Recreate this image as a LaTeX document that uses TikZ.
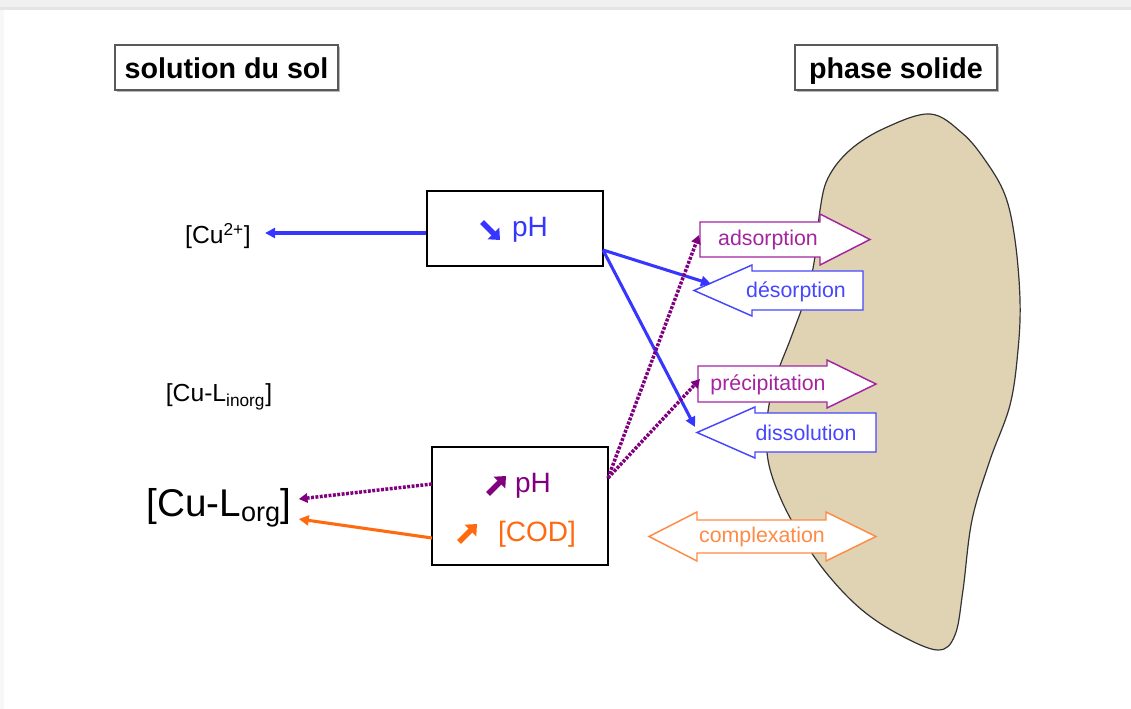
\documentclass[tikz,border=0pt]{standalone}
\usepackage{fontspec}
\setmainfont{Liberation Sans}
\usetikzlibrary{arrows.meta,shadows,calc}
\definecolor{cblue}{HTML}{3636FF}
\definecolor{cpurple}{HTML}{800080}
\definecolor{cmag}{HTML}{A4249F}
\definecolor{corange}{HTML}{FF6A10}
\definecolor{corange2}{HTML}{FF8A45}
\definecolor{ctan}{HTML}{E0D3B4}
\definecolor{cblue2}{HTML}{4646FF}
\begin{document}
\begin{tikzpicture}[x=0.75pt,y=-0.75pt,
  titlebox/.style={draw=black!65,fill=white,line width=1pt,inner sep=0pt,
    minimum height=33.75pt,text height=16.5pt,text depth=0.5pt,font=\fontsize{21.5}{24}\selectfont\bfseries,
    drop shadow={shadow xshift=1.2pt,shadow yshift=-1.2pt,fill=black!35,opacity=0.8}},
  procbox/.style={draw=black,fill=white,line width=1.6pt,inner sep=0pt,minimum width=132pt,
    drop shadow={shadow xshift=1pt,shadow yshift=-1pt,fill=black!30,opacity=0.8}},
  species/.style={inner sep=0pt,font=\fontsize{18.5}{20}\selectfont},
  blockM/.style={draw=cmag,fill=white,line width=1.1pt,line join=miter},
  blockB/.style={draw=cblue2,fill=white,line width=1.1pt,line join=miter},
  blockO/.style={draw=corange2,fill=white,line width=1.1pt,line join=miter},
  blabel/.style={inner sep=0pt,font=\fontsize{16}{18}\selectfont},
  ptext/.style={inner sep=0pt,font=\fontsize{21}{24}\selectfont},
  fatarrow/.style={line width=4pt,-{Triangle[length=7pt,width=12pt]}},
  bluearrow/.style={draw=cblue,line width=2.3pt,-{Triangle[length=7.5pt,width=7.5pt]}},
  purplearrow/.style={draw=cpurple,line width=2.6pt,dash pattern=on 2.2pt off 1.1pt,
    -{Triangle[length=6.5pt,width=7pt]}},
  orangearrow/.style={draw=corange,line width=2.3pt,-{Triangle[length=7.5pt,width=7.5pt]}}
]
\useasboundingbox (0,0) rectangle (1131,709);
\fill[white] (0,0) rectangle (1131,709);
\fill[black!6] (0,0) rectangle (1131,7);
\fill[black!10] (0,7) rectangle (1131,10);
\fill[black!3] (0,10) rectangle (4,709);

% solid phase
\draw[fill=ctan,draw=black!80,line width=0.9pt] plot[smooth cycle,tension=0.6] coordinates {
 (930,114) (885,128) (850,150) (828,178) (820,210) (816,250) (808,290) (792,335)
 (775,380) (767,420) (768,460) (780,497) (800,535) (828,575) (862,610) (900,635)
 (938,650) (955,635) (963,590) (972,520) (990,460) (1010,405) (1018,350) (1020,300)
 (1015,240) (1005,195) (985,160) (962,133)};

% titles
\node[titlebox,minimum width=167.25pt] (sol) at (226.5,67.5) {solution du sol};
\node[titlebox,minimum width=151.5pt] (sld) at (896,67.5) {phase solide};

% process boxes
\node[procbox,minimum height=56.25pt] (top) at (515,228.5) {};
\node[ptext,text=cblue] (tph) at (530,230) {pH};
\draw[fatarrow,cblue] (482,222) -- (500,240);
\node[procbox,minimum height=88.5pt] (bot) at (520,506) {};
\node[ptext,text=cpurple] (bph) at (533,486) {pH};
\draw[fatarrow,cpurple] (488,494) -- (506,476);
\node[ptext,text=corange] (bcod) at (537,534) {[COD]};
\draw[fatarrow,corange] (459,542) -- (477,524);

% species
\node[species] (cu) at (218,236) {[Cu\textsuperscript{2+}]};
\node[species] (cuin) at (219,397) {[Cu-L\textsubscript{inorg}]};
\node[inner sep=0pt,font=\fontsize{29}{32}\selectfont] (cuorg) at (219,508) {[Cu-L\textsubscript{org}]};

% block arrows
\draw[blockM] (700,222) -- (820,222) -- (820,214) -- (870,239.5) -- (820,265) -- (820,257) -- (700,257) -- cycle;
\node[blabel,text=cmag] (ads) at (768,240) {adsorption};
\coordinate (adsIn) at (699,235);

\draw[blockB] (863,271) -- (752,271) -- (752,265) -- (694,290.5) -- (752,316) -- (752,310) -- (863,310) -- cycle;
\node[blabel,text=cblue2] (des) at (796,292) {désorption};
\coordinate (desIn) at (711,284);

\draw[blockM] (698,366) -- (827,366) -- (827,360) -- (876,384) -- (827,408) -- (827,402) -- (698,402) -- cycle;
\node[blabel,text=cmag] (pre) at (768,385) {précipitation};
\coordinate (preIn) at (700,379);

\draw[blockB] (876,413) -- (755,413) -- (755,407) -- (697,432.5) -- (755,458) -- (755,452) -- (876,452) -- cycle;
\node[blabel,text=cblue2] (dis) at (806,433) {dissolution};
\coordinate (disIn) at (695,427);

\draw[blockO] (649,536.5) -- (697,512) -- (697,520) -- (826,520) -- (826,512) -- (876,536.5)
  -- (826,561) -- (826,553) -- (697,553) -- (697,561) -- cycle;
\node[blabel,text=corange2] (cpx) at (762,537) {complexation};

% connectors
\coordinate (topOut) at (603,250);
\coordinate (botOut) at (608,478);
\coordinate (botL1) at (432,484);
\coordinate (botL2) at (432,538);
\coordinate (cuIn) at ($(cu.east)+(14,-3)$);
\coordinate (orgA) at ($(cuorg.east)+(7,-9)$);
\coordinate (orgB) at ($(cuorg.east)+(7,11)$);

\draw[bluearrow] (top.west |- cuIn) -- (cuIn);
\draw[bluearrow] (topOut) -- (desIn);
\draw[bluearrow] (topOut) -- (disIn);
\draw[purplearrow] (botOut) -- (adsIn);
\draw[purplearrow] (botOut) -- (preIn);
\draw[purplearrow] (botL1) -- (orgA);
\draw[orangearrow] (botL2) -- (orgB);
\end{tikzpicture}
\end{document}
